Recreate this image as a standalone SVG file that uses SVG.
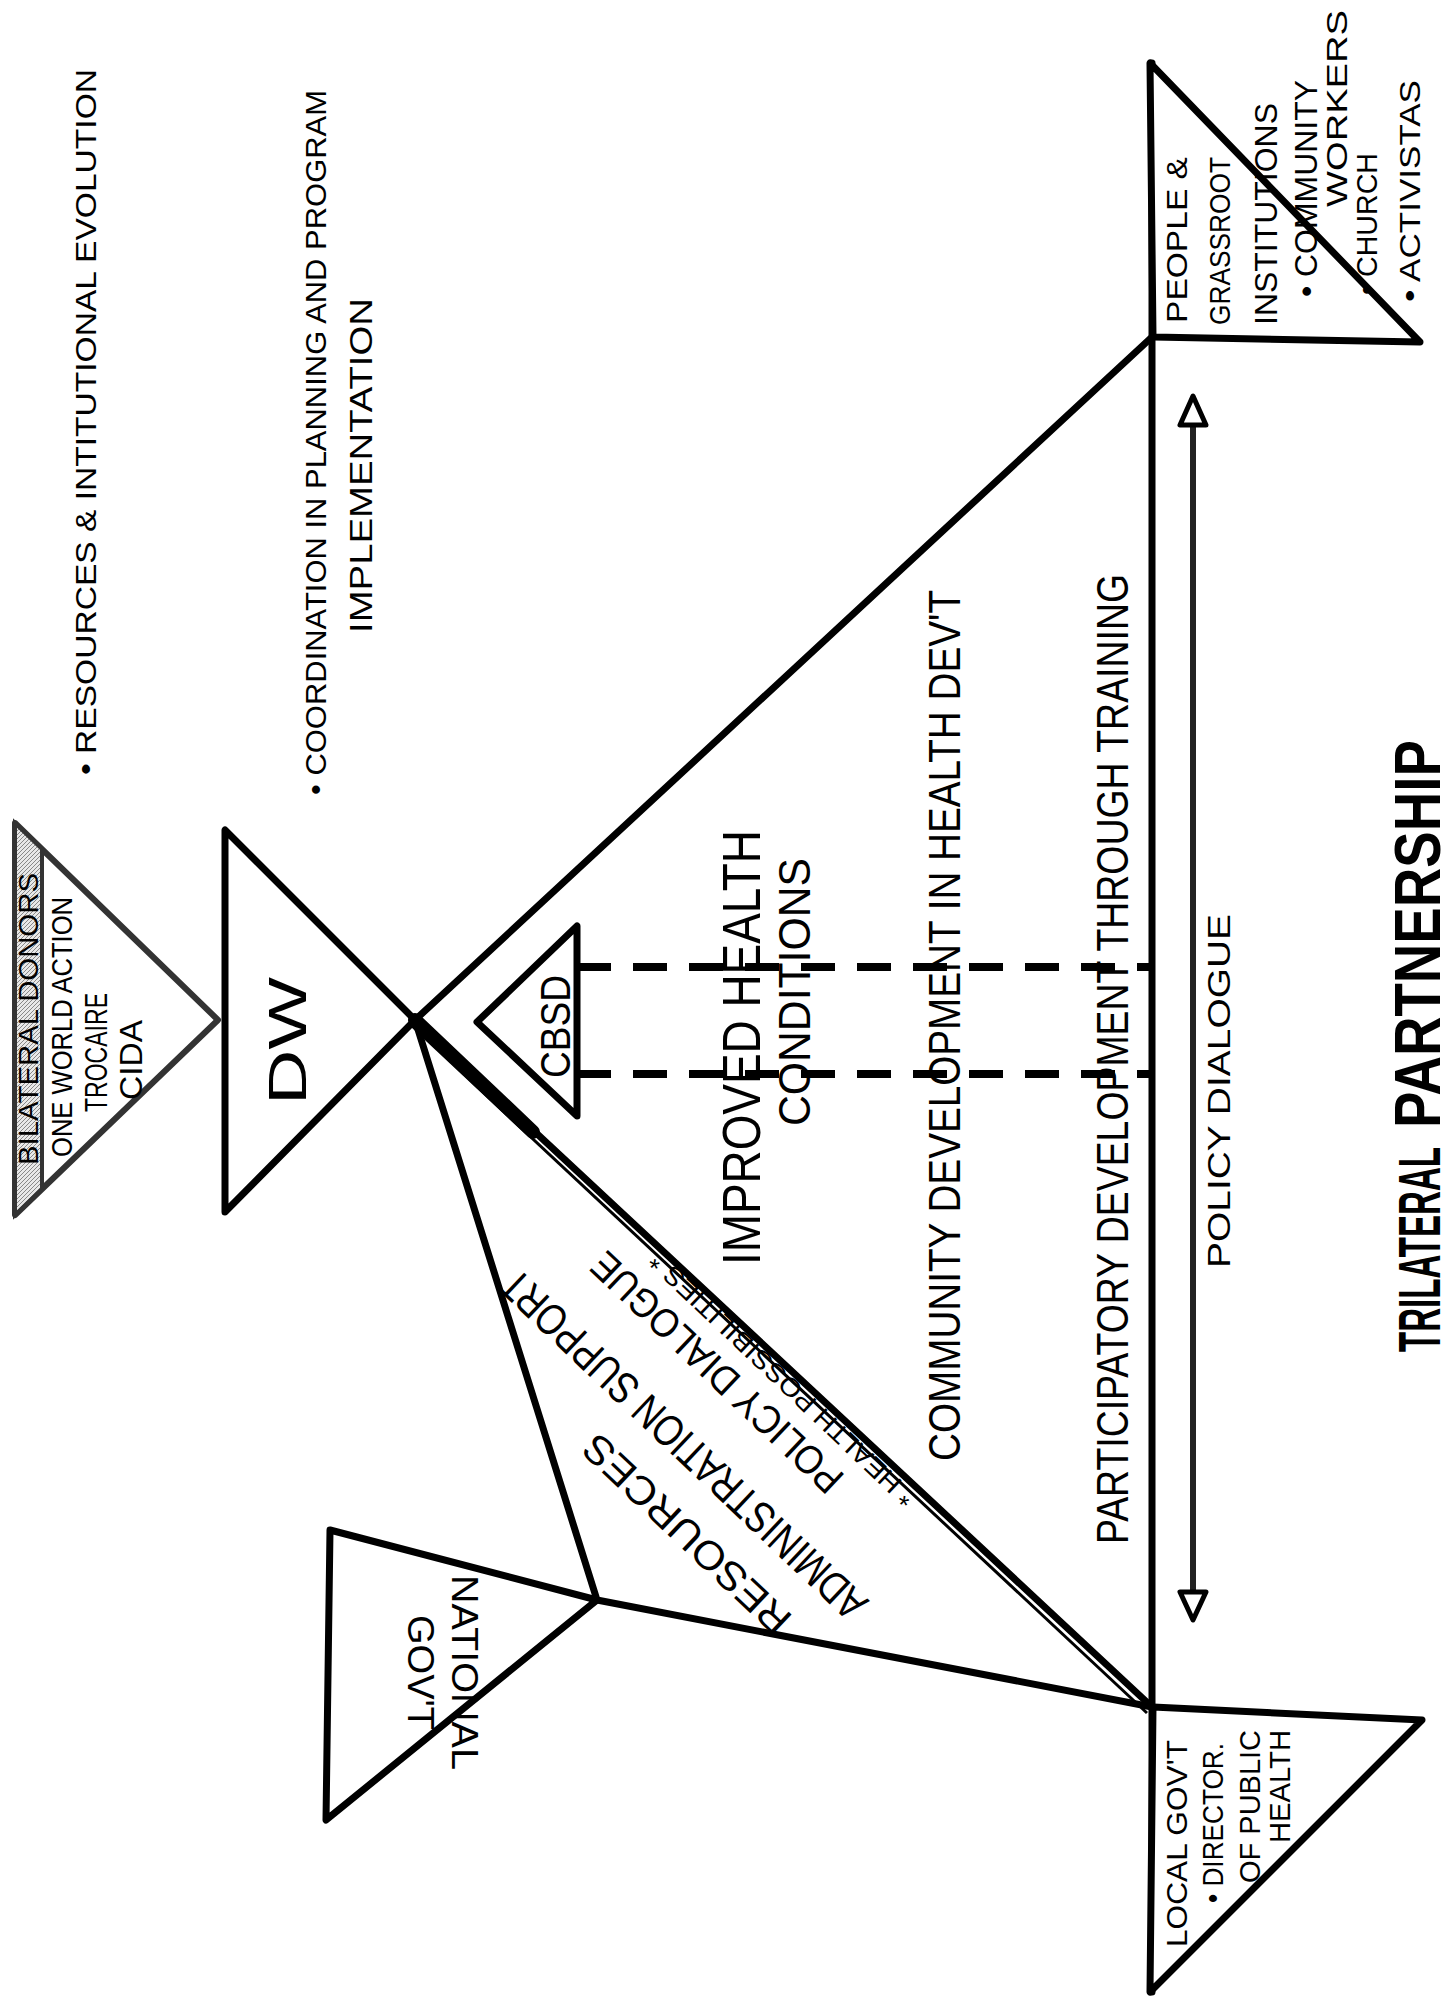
<svg xmlns="http://www.w3.org/2000/svg" width="1454" height="2007" viewBox="0 0 1454 2007">
<style>
.e{fill:none;stroke:#000;stroke-width:7;stroke-linejoin:round;stroke-linecap:round}
.tri{fill:#fff;stroke:#000;stroke-width:7;stroke-linejoin:round}
.t{font-family:"Liberation Sans Narrow","Liberation Sans",sans-serif;fill:#000}
.b{font-weight:bold}
</style>
<defs>
<pattern id="hatch" width="4" height="4" patternUnits="userSpaceOnUse"><rect width="4" height="4" fill="#e8e8e8"/><path d="M0 4L4 0" stroke="#888" stroke-width="1"/></pattern>
</defs>
<rect width="1454" height="2007" fill="#fff"/>

<g id="connectors">
<line class="e" x1="415" y1="1020" x2="1152" y2="337"/>
<line class="e" x1="415" y1="1020" x2="1152" y2="1707"/>
<line x1="412" y1="1026" x2="1147" y2="1713" stroke="#000" stroke-width="3"/>
<line x1="415" y1="1020" x2="533" y2="1132" stroke="#000" stroke-width="14" stroke-linecap="round"/>
<line class="e" x1="1152" y1="63" x2="1152" y2="1992"/>
<polyline class="e" points="415,1020 597,1600 1152,1707"/>
<g stroke="#000" stroke-width="8" stroke-dasharray="34 22">
<line x1="577" y1="967" x2="1150" y2="967"/>
<line x1="577" y1="1074" x2="1150" y2="1074"/>
</g>
<line x1="1193" y1="420" x2="1193" y2="1596" stroke="#222" stroke-width="6"/>
<polygon points="1193,396 1180,425 1206,425" fill="#fff" stroke="#000" stroke-width="5" stroke-linejoin="round"/>
<polygon points="1193,1620 1180,1592 1206,1592" fill="#fff" stroke="#000" stroke-width="5" stroke-linejoin="round"/>
</g>

<g id="bilateral">
<polygon points="15,823 218,1020 15,1215" fill="#fff" stroke="#333" stroke-width="6" stroke-linejoin="round"/>
<polygon points="15,823 42,849 42,1189 15,1215" fill="url(#hatch)" stroke="#333" stroke-width="4"/>
<text class="t" transform="translate(38,1165) rotate(-90)" font-size="27" textLength="292" lengthAdjust="spacingAndGlyphs">BILATERAL DONORS</text>
<text class="t" transform="translate(72,1157) rotate(-90)" font-size="30" textLength="260" lengthAdjust="spacingAndGlyphs">ONE WORLD ACTION</text>
<text class="t" transform="translate(107,1112) rotate(-90)" font-size="32" textLength="119" lengthAdjust="spacingAndGlyphs">TROCAIRE</text>
<text class="t" transform="translate(142,1100) rotate(-90)" font-size="32" textLength="80" lengthAdjust="spacingAndGlyphs">CIDA</text>
</g>

<g id="resources-note">
<text class="t" transform="translate(96,775) rotate(-90)" font-size="30" textLength="706" lengthAdjust="spacingAndGlyphs">• RESOURCES &amp; INTITUTIONAL EVOLUTION</text>
</g>

<g id="coordination-note">
<text class="t" transform="translate(326,795) rotate(-90)" font-size="30" textLength="705" lengthAdjust="spacingAndGlyphs">• COORDINATION IN PLANNING AND PROGRAM</text>
<text class="t" transform="translate(372,633) rotate(-90)" font-size="32" textLength="335" lengthAdjust="spacingAndGlyphs">IMPLEMENTATION</text>
</g>

<g id="dw">
<polyline class="e" points="415,1020 225,830 225,1212 415,1020"/>
<text class="t" transform="translate(306,1105) rotate(-90)" font-size="54" textLength="128" lengthAdjust="spacingAndGlyphs">DW</text>
</g>

<g id="cbsd">
<polygon class="tri" points="477,1022 577,926 577,1116"/>
<text class="t" transform="translate(570,1078) rotate(-90)" font-size="42" textLength="103" lengthAdjust="spacingAndGlyphs">CBSD</text>
</g>

<g id="national">
<polygon class="tri" points="330,1530 597,1600 326,1820"/>
<text class="t" transform="translate(452,1575) rotate(90)" font-size="36" textLength="195" lengthAdjust="spacingAndGlyphs">NATIONAL</text>
<text class="t" transform="translate(408,1615) rotate(90)" font-size="36" textLength="115" lengthAdjust="spacingAndGlyphs">GOV'T</text>
</g>

<g id="people">
<polygon class="tri" points="1150,63 1153,337 1420,342"/>
<text class="t" transform="translate(1187,323) rotate(-90)" font-size="30" textLength="166" lengthAdjust="spacingAndGlyphs">PEOPLE &amp;</text>
<text class="t" transform="translate(1230,325) rotate(-90)" font-size="30" textLength="168" lengthAdjust="spacingAndGlyphs">GRASSROOT</text>
<text class="t" transform="translate(1277,325) rotate(-90)" font-size="32" textLength="222" lengthAdjust="spacingAndGlyphs">INSTITUTIONS</text>
<text class="t" transform="translate(1317,297) rotate(-90)" font-size="32" textLength="217" lengthAdjust="spacingAndGlyphs">• COMMUNITY</text>
<text class="t" transform="translate(1347,207) rotate(-90)" font-size="30" textLength="197" lengthAdjust="spacingAndGlyphs">WORKERS</text>
<text class="t" transform="translate(1377,295) rotate(-90)" font-size="30" textLength="142" lengthAdjust="spacingAndGlyphs">• CHURCH</text>
<text class="t" transform="translate(1420,302) rotate(-90)" font-size="30" textLength="222" lengthAdjust="spacingAndGlyphs">• ACTIVISTAS</text>
</g>

<g id="local">
<polygon class="tri" points="1153,1707 1422,1720 1150,1992"/>
<text class="t" transform="translate(1187,1947) rotate(-90)" font-size="30" textLength="207" lengthAdjust="spacingAndGlyphs">LOCAL GOV'T</text>
<text class="t" transform="translate(1223,1903) rotate(-90)" font-size="30" textLength="160" lengthAdjust="spacingAndGlyphs">• DIRECTOR.</text>
<text class="t" transform="translate(1260,1883) rotate(-90)" font-size="30" textLength="153" lengthAdjust="spacingAndGlyphs">OF PUBLIC</text>
<text class="t" transform="translate(1290,1843) rotate(-90)" font-size="30" textLength="113" lengthAdjust="spacingAndGlyphs">HEALTH</text>
</g>

<g id="labels">
<text class="t" transform="translate(760,1265) rotate(-90)" font-size="54" textLength="435" lengthAdjust="spacingAndGlyphs">IMPROVED HEALTH</text>
<text class="t" transform="translate(810,1126) rotate(-90)" font-size="44" textLength="268" lengthAdjust="spacingAndGlyphs">CONDITIONS</text>
<text class="t" transform="translate(960,1461) rotate(-90)" font-size="44" textLength="871" lengthAdjust="spacingAndGlyphs">COMMUNITY DEVELOPMENT IN HEALTH DEV'T</text>
<text class="t" transform="translate(1128,1544) rotate(-90)" font-size="44" textLength="970" lengthAdjust="spacingAndGlyphs">PARTICIPATORY DEVELOPMENT THROUGH TRAINING</text>
<text class="t" transform="translate(1230,1268) rotate(-90)" font-size="32" textLength="354" lengthAdjust="spacingAndGlyphs">POLICY DIALOGUE</text>
<text class="t" transform="translate(917,1495) rotate(-136.5)" font-size="26" textLength="355" lengthAdjust="spacingAndGlyphs">* HEALTH POSSIBILITIES *</text>
<text class="t" transform="translate(846,1476) rotate(-136.5)" font-size="40" textLength="330" lengthAdjust="spacingAndGlyphs">POLICY DIALOGUE</text>
<text class="t" transform="translate(870,1601) rotate(-136.5)" font-size="44" textLength="486" lengthAdjust="spacingAndGlyphs">ADMINISTRATION SUPPORT</text>
<text class="t" transform="translate(794,1617) rotate(-136.5)" font-size="40" textLength="270" lengthAdjust="spacingAndGlyphs">RESOURCES</text>
</g>

<g id="title">
<text class="t b" transform="translate(1440,1352) rotate(-90)" font-size="60" textLength="205" lengthAdjust="spacingAndGlyphs">TRILATERAL</text>
<text class="t b" transform="translate(1440,1128) rotate(-90)" font-size="64" textLength="388" lengthAdjust="spacingAndGlyphs">PARTNERSHIP</text>
</g>
</svg>
